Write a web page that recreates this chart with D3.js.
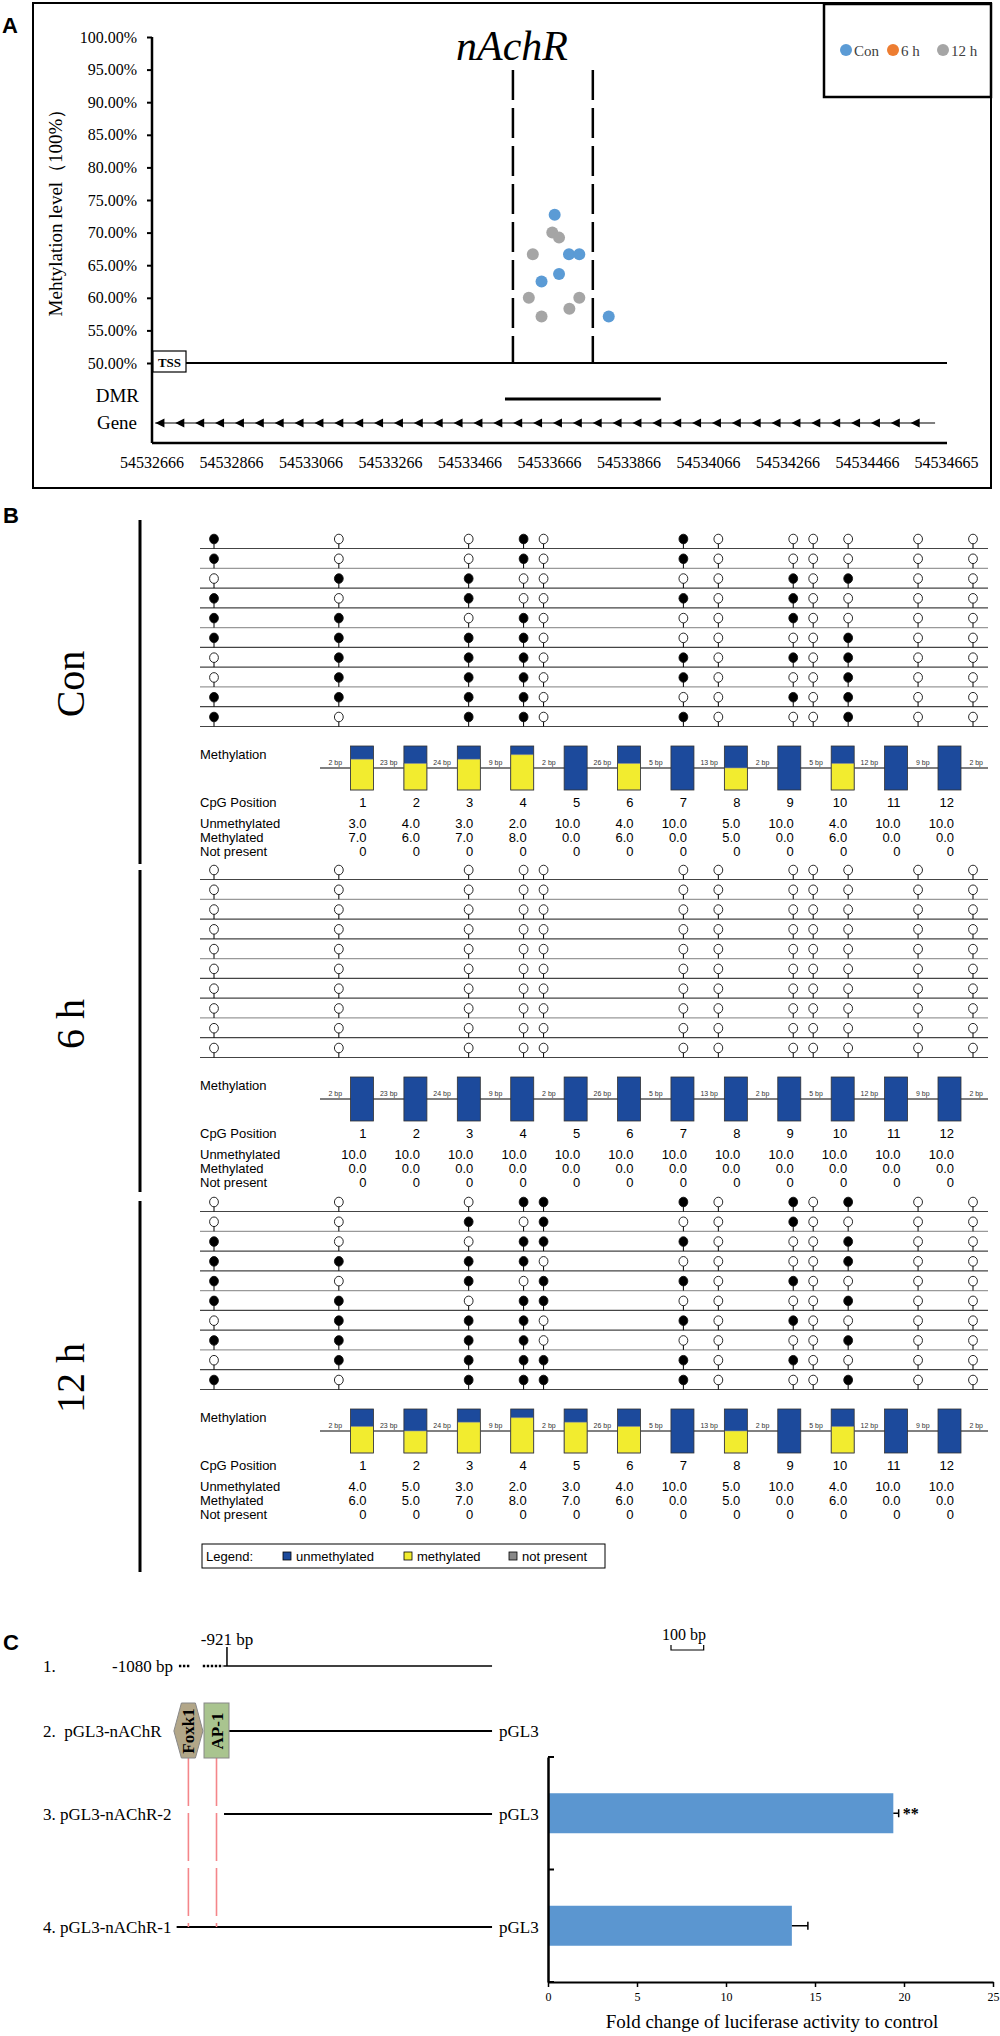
<!DOCTYPE html>
<html>
<head>
<meta charset="utf-8">
<script src="https://cdn.jsdelivr.net/npm/d3@7"></script>
<style>
body { margin: 0; background: #fff; }
svg { display: block; }
text { font-family: "Liberation Serif", "Times New Roman", serif; fill: #000; }
.sans { font-family: "Liberation Sans", Arial, sans-serif; }
</style>
</head>
<body>
<svg id="fig" width="1000" height="2036"></svg>
<script>
// ---------- panel A data ----------
var levelTicks = [50, 55, 60, 65, 70, 75, 80, 85, 90, 95, 100];
var posTicks = [54532666, 54532866, 54533066, 54533266, 54533466, 54533666, 54533866, 54534066, 54534266, 54534466, 54534665];
var conPos = [54533679, 54533715, 54533741, 54533690, 54533646, 54533815];
var conLevel = [72.73, 66.67, 66.67, 63.64, 62.5, 57.14];
var h6Pos = [], h6Level = [];
var h12Pos = [54533673, 54533690, 54533624, 54533614, 54533741, 54533716, 54533646];
var h12Level = [70.0, 69.23, 66.67, 60.0, 60.0, 58.33, 57.14];
var dmrBounds = [54533574, 54533775];
var dmrRange = [54533554, 54533946];
var seriesNames = ["Con", "6 h", "12 h"];
var seriesColors = ["#5b9bd5", "#ed7d31", "#a5a5a5"];

// ---------- panel B data ----------
var cpgIds = [1, 2, 3, 4, 5, 6, 7, 8, 9, 10, 11, 12];
var gapBp = [2, 23, 24, 9, 2, 26, 5, 13, 2, 5, 12, 9, 2];
var conRows = ["100101000000", "100101000000", "011000010100", "101001010000", "110100010000",
               "111100000100", "011101010100", "011101000100", "111100010100", "101101000100"];
var h6Rows = ["000000000000", "000000000000", "000000000000", "000000000000", "000000000000",
              "000000000000", "000000000000", "000000000000", "000000000000", "000000000000"];
var h12Rows = ["000111010100", "001010010000", "100111000100", "111100000100", "101011010000",
               "110110000100", "011101010000", "111100000100", "011111010000", "101111000100"];
var conUnmeth = [3, 4, 3, 2, 10, 4, 10, 5, 10, 4, 10, 10];
var conMeth   = [7, 6, 7, 8, 0, 6, 0, 5, 0, 6, 0, 0];
var h6Unmeth  = [10, 10, 10, 10, 10, 10, 10, 10, 10, 10, 10, 10];
var h6Meth    = [0, 0, 0, 0, 0, 0, 0, 0, 0, 0, 0, 0];
var h12Unmeth = [4, 5, 3, 2, 3, 4, 10, 5, 10, 4, 10, 10];
var h12Meth   = [6, 5, 7, 8, 7, 6, 0, 5, 0, 6, 0, 0];
var notPresent = [0, 0, 0, 0, 0, 0, 0, 0, 0, 0, 0, 0];

// ---------- panel C data ----------
var constructLabels = ["1.", "2.  pGL3-nAChR", "3. pGL3-nAChR-2", "4. pGL3-nAChR-1"];
var constructStart = [-1080, -948, -930, -1075];
var constructEnd = -110;
var barCats = ["pGL3-nAChR-2", "pGL3-nAChR-1"];
var barValues = [19.4, 13.7];
var barErrors = [0.3, 0.9];
var barSig = ["**", ""];
var foldTicks = [0, 5, 10, 15, 20, 25];

var svg = d3.select("#fig");
svg.append("rect").attr("width", 1000).attr("height", 2036).attr("fill", "#fff");

function panelLetter(t, x, y) {
  svg.append("text").attr("class", "sans").attr("x", x).attr("y", y)
    .attr("font-size", 22).attr("font-weight", "bold").text(t);
}

// =============== A ===============
panelLetter("A", 2, 33);
var A = svg.append("g");
A.append("rect").attr("x", 33).attr("y", 3).attr("width", 958).attr("height", 485)
  .attr("fill", "none").attr("stroke", "#000").attr("stroke-width", 2);

var xA = d3.scaleLinear().domain([54532666, 54534666]).range([152, 947]);
var yA = d3.scaleLinear().domain([50, 100]).range([363, 37]);

var yAx = A.append("g").attr("transform", "translate(152,0)")
  .call(d3.axisLeft(yA).tickValues(levelTicks).tickSize(5).tickPadding(10)
    .tickFormat(function (d) { return d.toFixed(2) + "%"; }));
yAx.select(".domain").remove();
yAx.selectAll(".tick line").attr("stroke-width", 2);
yAx.selectAll("text").attr("font-size", 16).attr("font-family", "Liberation Serif");

A.append("line").attr("x1", 152).attr("x2", 152).attr("y1", yA(100)).attr("y2", 443)
  .attr("stroke", "#000").attr("stroke-width", 2.5);
A.append("line").attr("x1", 152).attr("x2", xA(54534666)).attr("y1", yA(50)).attr("y2", yA(50))
  .attr("stroke", "#000").attr("stroke-width", 2);
A.append("line").attr("x1", 152).attr("x2", xA(54534666)).attr("y1", 443).attr("y2", 443)
  .attr("stroke", "#000").attr("stroke-width", 2.5);

A.append("text").attr("transform", "translate(62,208) rotate(-90)")
  .attr("text-anchor", "middle").attr("font-size", 19).text("Mehtylation level（100%）");

A.append("text").attr("x", 512).attr("y", 60).attr("text-anchor", "middle")
  .attr("font-size", 42).attr("font-style", "italic").text("nAchR");

// TSS box
A.append("rect").attr("x", 153).attr("y", 351).attr("width", 33).attr("height", 21)
  .attr("fill", "#fff").attr("stroke", "#000").attr("stroke-width", 1.2);
A.append("text").attr("x", 169.5).attr("y", 366.5).attr("text-anchor", "middle")
  .attr("font-size", 13).attr("font-weight", "bold").text("TSS");

// DMR boundaries
A.selectAll(".dmrb").data(dmrBounds).enter().append("line")
  .attr("x1", function (d) { return xA(d); }).attr("x2", function (d) { return xA(d); })
  .attr("y1", 70).attr("y2", yA(50))
  .attr("stroke", "#000").attr("stroke-width", 2.5).attr("stroke-dasharray", "30,8");

A.append("text").attr("x", 139).attr("y", 402).attr("text-anchor", "end").attr("font-size", 19).text("DMR");
A.append("line").attr("x1", xA(dmrRange[0])).attr("x2", xA(dmrRange[1])).attr("y1", 399).attr("y2", 399)
  .attr("stroke", "#000").attr("stroke-width", 3);

A.append("text").attr("x", 137).attr("y", 429).attr("text-anchor", "end").attr("font-size", 19).text("Gene");
A.append("line").attr("x1", xA(54532674)).attr("x2", xA(54534636)).attr("y1", 423).attr("y2", 423)
  .attr("stroke", "#000").attr("stroke-width", 1.2);
A.selectAll(".arr").data(d3.range(54532686, 54534600, 50)).enter().append("path")
  .attr("d", function (d) { var x = xA(d); return "M" + (x - 4.5) + ",423L" + (x + 4.5) + ",418.5L" + (x + 4.5) + ",427.5Z"; })
  .attr("fill", "#000");

A.selectAll(".xt").data(posTicks).enter().append("text")
  .attr("x", function (d) { return xA(d); }).attr("y", 468).attr("text-anchor", "middle")
  .attr("font-size", 16).text(function (d) { return d; });

// dots
var dotSets = [[h6Pos, h6Level, 1], [h12Pos, h12Level, 2], [conPos, conLevel, 0]];
dotSets.forEach(function (s) {
  A.selectAll(null).data(d3.range(s[0].length)).enter().append("circle")
    .attr("cx", function (i) { return xA(s[0][i]); })
    .attr("cy", function (i) { return yA(s[1][i]); })
    .attr("r", 6).attr("fill", seriesColors[s[2]]);
});

// legend A
A.append("rect").attr("x", 824).attr("y", 4).attr("width", 167).attr("height", 93)
  .attr("fill", "#fff").attr("stroke", "#000").attr("stroke-width", 2.5);
var legX = [846, 893, 943];
seriesNames.forEach(function (n, i) {
  A.append("circle").attr("cx", legX[i]).attr("cy", 50).attr("r", 6).attr("fill", seriesColors[i]);
  A.append("text").attr("x", legX[i] + 8).attr("y", 55.5).attr("font-size", 15)
    .style("fill", "#404040").text(n);
});

// =============== B ===============
panelLetter("B", 3, 523);
var B = svg.append("g");

var cpgBp = [0];
for (var k = 1; k < cpgIds.length; k++) cpgBp.push(cpgBp[k - 1] + gapBp[k] + 2);
var xLol = d3.scaleLinear().domain([0, cpgBp[cpgBp.length - 1]]).range([214, 973]);
var xBar = d3.scalePoint().domain(cpgIds).range([362, 949.5]);
var barStep = xBar.step();
var fmt1 = d3.format(".1f");

var sections = [
  { name: "Con", r0: 539, rows: conRows, un: conUnmeth, me: conMeth, barTop: 520, barBot: 864, labelY: 684 },
  { name: "6 h", r0: 870, rows: h6Rows, un: h6Unmeth, me: h6Meth, barTop: 870, barBot: 1192, labelY: 1024 },
  { name: "12 h", r0: 1202, rows: h12Rows, un: h12Unmeth, me: h12Meth, barTop: 1201, barBot: 1572, labelY: 1378 }
];

sections.forEach(function (sec) {
  var g = B.append("g");
  var r0 = sec.r0;
  var yRow = d3.scalePoint().domain(d3.range(sec.rows.length)).range([r0, r0 + 178]);

  g.append("line").attr("x1", 140).attr("x2", 140).attr("y1", sec.barTop).attr("y2", sec.barBot)
    .attr("stroke", "#000").attr("stroke-width", 3);
  g.append("text").attr("transform", "translate(84," + sec.labelY + ") rotate(-90)")
    .attr("text-anchor", "middle").attr("font-size", 40).text(sec.name);

  sec.rows.forEach(function (row, ri) {
    var y = yRow(ri);
    g.append("line").attr("x1", 200).attr("x2", 988).attr("y1", y + 9.5).attr("y2", y + 9.5)
      .attr("stroke", ri % 3 === 1 ? "#999" : "#444").attr("stroke-width", 1.2);
    var cells = row.split("").map(Number);
    g.selectAll(null).data(cells).enter().append("line")
      .attr("x1", function (d, i) { return xLol(cpgBp[i]); })
      .attr("x2", function (d, i) { return xLol(cpgBp[i]); })
      .attr("y1", y + 4).attr("y2", y + 9.5).attr("stroke", "#000").attr("stroke-width", 1);
    g.selectAll(null).data(cells).enter().append("ellipse")
      .attr("cx", function (d, i) { return xLol(cpgBp[i]); })
      .attr("cy", y).attr("rx", 4.4).attr("ry", 4.8)
      .attr("fill", function (d) { return d ? "#000" : "#fff"; })
      .attr("stroke", "#111").attr("stroke-width", 0.9);
  });

  // methylation bars
  var top = r0 + 207, h = 44, bb = r0 + 229;
  g.append("text").attr("class", "sans").attr("x", 200).attr("y", r0 + 220).attr("font-size", 13).text("Methylation");
  g.append("line").attr("x1", 320).attr("x2", 988).attr("y1", bb).attr("y2", bb).attr("stroke", "#000").attr("stroke-width", 1);
  var hScale = d3.scaleLinear().domain([0, 10]).range([0, h]);
  g.selectAll(null).data(cpgIds).enter().append("rect")
    .attr("x", function (d) { return xBar(d) - 11.5; }).attr("width", 23)
    .attr("y", top).attr("height", h).attr("fill", "#1c4a9c");
  g.selectAll(null).data(cpgIds).enter().append("rect")
    .attr("x", function (d) { return xBar(d) - 11.5; }).attr("width", 23)
    .attr("y", function (d, i) { return top + h - hScale(sec.me[i]); })
    .attr("height", function (d, i) { return hScale(sec.me[i]); })
    .attr("fill", "#f2ec2f").attr("stroke", "#999").attr("stroke-width", 0.6);
  g.selectAll(null).data(cpgIds).enter().append("rect")
    .attr("x", function (d) { return xBar(d) - 11.5; }).attr("width", 23)
    .attr("y", top).attr("height", h).attr("fill", "none").attr("stroke", "#333").attr("stroke-width", 0.8);
  g.selectAll(null).data(gapBp).enter().append("text").attr("class", "sans")
    .attr("x", function (d, i) { return xBar(1) + (i - 0.5) * barStep; })
    .attr("y", bb - 3).attr("text-anchor", "middle").attr("font-size", 7).style("fill", "#333")
    .text(function (d) { return d + " bp"; });

  // table
  var tRows = [
    ["CpG Position", cpgIds.map(String), r0 + 268],
    ["Unmethylated", sec.un.map(fmt1), r0 + 289],
    ["Methylated", sec.me.map(fmt1), r0 + 303],
    ["Not present", notPresent.map(String), r0 + 317]
  ];
  tRows.forEach(function (tr) {
    g.append("text").attr("class", "sans").attr("x", 200).attr("y", tr[2]).attr("font-size", 13).text(tr[0]);
    g.selectAll(null).data(tr[1]).enter().append("text").attr("class", "sans")
      .attr("x", function (d, i) { return xBar(cpgIds[i]) + 4.5; }).attr("y", tr[2])
      .attr("text-anchor", "end").attr("font-size", 13).text(function (d) { return d; });
  });
});

// legend B
var LB = B.append("g");
LB.append("rect").attr("x", 202).attr("y", 1544).attr("width", 403).attr("height", 24)
  .attr("fill", "#fff").attr("stroke", "#000").attr("stroke-width", 1);
LB.append("text").attr("class", "sans").attr("x", 206).attr("y", 1561).attr("font-size", 13).text("Legend:");
var legItems = [["unmethylated", "#1c4a9c", 283], ["methylated", "#f2ec2f", 404], ["not present", "#888", 509]];
legItems.forEach(function (it) {
  LB.append("rect").attr("x", it[2]).attr("y", 1552).attr("width", 8).attr("height", 8)
    .attr("fill", it[1]).attr("stroke", "#000").attr("stroke-width", 0.8);
  LB.append("text").attr("class", "sans").attr("x", it[2] + 13).attr("y", 1561).attr("font-size", 13).text(it[0]);
});

// =============== C ===============
panelLetter("C", 3, 1650);
var C = svg.append("g");
var xC = d3.scaleLinear().domain([-1080, 0]).range([175, 528]);
var rowY = [1666, 1731, 1814, 1927];

constructLabels.forEach(function (t, i) {
  C.append("text").attr("x", 43).attr("y", rowY[i] + 6).attr("font-size", 17)
    .style("white-space", "pre").text(t);
});
// construct 1
C.append("text").attr("x", 173).attr("y", rowY[0] + 6).attr("text-anchor", "end").attr("font-size", 17).text("-1080 bp");
C.append("line").attr("x1", xC(-1068)).attr("x2", xC(-1032)).attr("y1", rowY[0]).attr("y2", rowY[0])
  .attr("stroke", "#000").attr("stroke-width", 2.6).attr("stroke-dasharray", "2.4,1.6");
C.append("line").attr("x1", xC(-995)).attr("x2", xC(-933)).attr("y1", rowY[0]).attr("y2", rowY[0])
  .attr("stroke", "#000").attr("stroke-width", 2.6).attr("stroke-dasharray", "2.4,1.6");
C.append("line").attr("x1", xC(-932)).attr("x2", xC(constructEnd)).attr("y1", rowY[0]).attr("y2", rowY[0])
  .attr("stroke", "#000").attr("stroke-width", 1.5);
C.append("line").attr("x1", xC(-921)).attr("x2", xC(-921)).attr("y1", rowY[0] - 19).attr("y2", rowY[0])
  .attr("stroke", "#000").attr("stroke-width", 1.5);
C.append("text").attr("x", xC(-921)).attr("y", rowY[0] - 21).attr("text-anchor", "middle").attr("font-size", 17).text("-921 bp");

// scale bar 100 bp
C.append("text").attr("x", 684).attr("y", 1640).attr("text-anchor", "middle").attr("font-size", 16).text("100 bp");
C.append("path").attr("d", "M" + (xC(-1080) + 496) + ",1645V1650H" + (xC(-980) + 496) + "V1645")
  .attr("fill", "none").attr("stroke", "#000").attr("stroke-width", 1.2);

// lines for constructs 2-4
[1, 2, 3].forEach(function (i) {
  C.append("line").attr("x1", xC(constructStart[i])).attr("x2", xC(constructEnd)).attr("y1", rowY[i]).attr("y2", rowY[i])
    .attr("stroke", "#000").attr("stroke-width", 1.8);
  C.append("text").attr("x", 499).attr("y", rowY[i] + 6).attr("font-size", 17).text("pGL3");
});

// binding sites
var foxX = xC(-1039), apX = xC(-953);
var boxTop = rowY[1] - 28, boxBot = rowY[1] + 27;
C.selectAll(".site").data([foxX, apX]).enter().append("line")
  .attr("x1", function (d) { return d; }).attr("x2", function (d) { return d; })
  .attr("y1", boxBot).attr("y2", rowY[3]).attr("stroke", "#f4868a").attr("stroke-width", 1.6)
  .attr("stroke-dasharray", "48,7");
C.append("path").attr("d", "M" + (foxX - 14.5) + "," + rowY[1] + "L" + (foxX - 7) + "," + boxTop + "L" + (foxX + 7) + "," + boxTop + "L" +
  (foxX + 14.5) + "," + rowY[1] + "L" + (foxX + 7) + "," + boxBot + "L" + (foxX - 7) + "," + boxBot + "Z")
  .attr("fill", "#b2a688").attr("stroke", "#888").attr("stroke-width", 1);
C.append("rect").attr("x", apX - 12.5).attr("y", boxTop).attr("width", 25).attr("height", boxBot - boxTop)
  .attr("fill", "#a9c48f").attr("stroke", "#888").attr("stroke-width", 1);
C.append("text").attr("transform", "translate(" + (foxX + 6) + "," + rowY[1] + ") rotate(-90)").attr("text-anchor", "middle")
  .attr("font-size", 17).attr("font-weight", "bold").text("Foxk1");
C.append("text").attr("transform", "translate(" + (apX + 6) + "," + rowY[1] + ") rotate(-90)").attr("text-anchor", "middle")
  .attr("font-size", 17).attr("font-weight", "bold").text("AP-1");

// bar chart
var xF = d3.scaleLinear().domain([0, 25]).range([548, 993]);
var yF = d3.scaleBand().domain(barCats).range([1757, 1982]);
C.selectAll(".bar").data(barCats).enter().append("rect")
  .attr("x", xF(0)).attr("y", function (d) { return yF(d) + yF.bandwidth() / 2 - 20; })
  .attr("width", function (d, i) { return xF(barValues[i]) - xF(0); }).attr("height", 40)
  .attr("fill", "#5b96d0");
barCats.forEach(function (c, i) {
  var yc = yF(c) + yF.bandwidth() / 2;
  var x1 = xF(barValues[i]), x2 = xF(barValues[i] + barErrors[i]);
  C.append("line").attr("x1", x1).attr("x2", x2).attr("y1", yc).attr("y2", yc).attr("stroke", "#000").attr("stroke-width", 1.5);
  C.append("line").attr("x1", x2).attr("x2", x2).attr("y1", yc - 4).attr("y2", yc + 4).attr("stroke", "#000").attr("stroke-width", 1.5);
  if (barSig[i]) C.append("text").attr("x", x2 + 4).attr("y", yc + 6).attr("font-size", 16).attr("font-weight", "bold").text(barSig[i]);
});
var xFa = C.append("g").attr("transform", "translate(0,1982)")
  .call(d3.axisBottom(xF).tickValues(foldTicks).tickSize(5).tickSizeOuter(0));
xFa.select(".domain").attr("stroke-width", 2);
xFa.selectAll(".tick line").attr("stroke-width", 1.5);
xFa.selectAll("text").attr("font-size", 12).attr("font-family", "Liberation Sans").attr("dy", "0.9em");
var yFa = C.append("g").attr("transform", "translate(548,0)")
  .call(d3.axisRight(yF).tickValues([]).tickSizeOuter(0));
yFa.select(".domain").attr("stroke-width", 2.5);
C.selectAll(".ytk").data([1757, yF(barCats[1]), 1982]).enter().append("line")
  .attr("x1", 548).attr("x2", 554).attr("y1", function (d) { return d; }).attr("y2", function (d) { return d; })
  .attr("stroke", "#000").attr("stroke-width", 2);
C.append("text").attr("x", 772).attr("y", 2028).attr("text-anchor", "middle").attr("font-size", 19)
  .text("Fold change of luciferase activity to control");
</script>
</body>
</html>
